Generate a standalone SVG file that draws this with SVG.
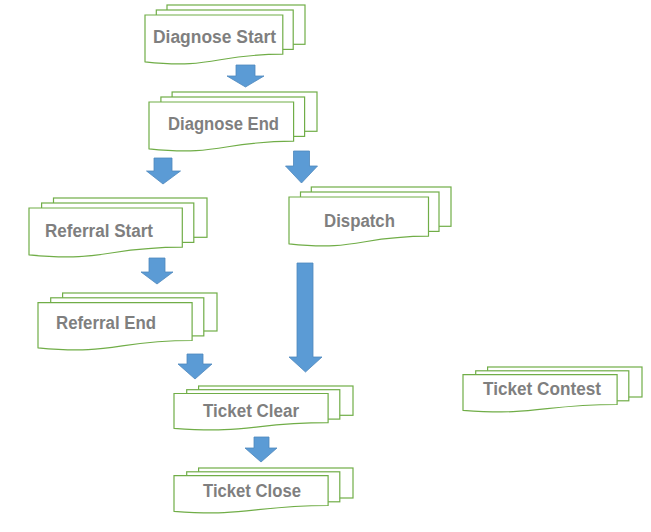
<svg xmlns="http://www.w3.org/2000/svg" width="651" height="532" viewBox="0 0 651 532">
<style>
.pg{fill:#ffffff;stroke:#70ad47;stroke-width:1.2}
.lbl{font-family:"Liberation Sans",Arial,sans-serif;font-weight:bold;font-size:18px;fill:#7f7f7f}
.arr{fill:#5b9bd5;stroke:#4f88bd;stroke-width:0.8}
</style>
<rect width="651" height="532" fill="#ffffff"/>
<g id="connectors">
<polygon class="arr" points="236,65 255,65 255,76 264,76 245.5,87 227,76 236,76"/>
<polygon class="arr" points="154,158 172,158 172,171 180.5,171 163,184 146.5,171 154,171"/>
<polygon class="arr" points="293.5,151 309.5,151 309.5,166 317.5,166 301.5,183 285.5,166 293.5,166"/>
<polygon class="arr" points="149,258 165,258 165,272 173,272 157,284 141,272 149,272"/>
<polygon class="arr" points="297,263 313,263 313,357 322,357 305.5,372 289,357 297,357"/>
<polygon class="arr" points="187,354 203,354 203,364 212,364 195,379 178,364 187,364"/>
<polygon class="arr" points="254,437 269,437 269,448 277,448 261,462 245,448 254,448"/>
</g>
<g id="diagnose-start">
<rect class="pg" x="167" y="5" width="138" height="39.3"/>
<rect class="pg" x="156.3" y="10" width="136.9" height="39.4"/>
<path class="pg" d="M145,61.8 C213.9,69.3 213.9,54.2 282.8,54.2 L282.8,15 L145,15 Z"/>
<text class="lbl" x="153" y="43" textLength="123" lengthAdjust="spacingAndGlyphs">Diagnose Start</text>
</g>
<g id="diagnose-end">
<rect class="pg" x="172.1" y="92" width="144.9" height="39.3"/>
<rect class="pg" x="160.9" y="97" width="143.7" height="39.4"/>
<path class="pg" d="M149,148.8 C221.3,156.3 221.3,141.2 293.6,141.2 L293.6,102 L149,102 Z"/>
<text class="lbl" x="168" y="130" textLength="111" lengthAdjust="spacingAndGlyphs">Diagnose End</text>
</g>
<g id="referral-start">
<rect class="pg" x="53.5" y="198" width="153.5" height="39.3"/>
<rect class="pg" x="41.6" y="203" width="152.2" height="39.4"/>
<path class="pg" d="M29,254.8 C105.6,262.3 105.6,247.2 182.3,247.2 L182.3,208 L29,208 Z"/>
<text class="lbl" x="45" y="237" textLength="108" lengthAdjust="spacingAndGlyphs">Referral Start</text>
</g>
<g id="dispatch">
<rect class="pg" x="311.3" y="187" width="139.7" height="39.3"/>
<rect class="pg" x="300.5" y="192" width="138.5" height="39.4"/>
<path class="pg" d="M289,243.8 C358.7,251.3 358.7,236.2 428.5,236.2 L428.5,197 L289,197 Z"/>
<text class="lbl" x="324" y="227" textLength="71" lengthAdjust="spacingAndGlyphs">Dispatch</text>
</g>
<g id="referral-end">
<rect class="pg" x="62.6" y="293" width="154.4" height="38"/>
<rect class="pg" x="50.7" y="297.8" width="153.1" height="38.1"/>
<path class="pg" d="M38,347.8 C115.1,355.1 115.1,340.5 192.1,340.5 L192.1,302.7 L38,302.7 Z"/>
<text class="lbl" x="56" y="329" textLength="100" lengthAdjust="spacingAndGlyphs">Referral End</text>
</g>
<g id="ticket-clear">
<rect class="pg" x="198.6" y="386" width="154.4" height="29.3"/>
<rect class="pg" x="186.7" y="389.7" width="153.1" height="29.4"/>
<path class="pg" d="M174,428.3 C251.1,434 251.1,422.7 328.1,422.7 L328.1,393.5 L174,393.5 Z"/>
<text class="lbl" x="203" y="417" textLength="96" lengthAdjust="spacingAndGlyphs">Ticket Clear</text>
</g>
<g id="ticket-close">
<rect class="pg" x="198.6" y="468" width="154.4" height="30"/>
<rect class="pg" x="186.7" y="471.8" width="153.1" height="30"/>
<path class="pg" d="M174,511.3 C251.1,517 251.1,505.5 328.1,505.5 L328.1,475.7 L174,475.7 Z"/>
<text class="lbl" x="203" y="497" textLength="98" lengthAdjust="spacingAndGlyphs">Ticket Close</text>
</g>
<g id="ticket-contest">
<rect class="pg" x="487.6" y="367" width="154.4" height="30"/>
<rect class="pg" x="475.7" y="370.8" width="153.1" height="30"/>
<path class="pg" d="M463,410.3 C540.1,416 540.1,404.5 617.1,404.5 L617.1,374.7 L463,374.7 Z"/>
<text class="lbl" x="483" y="395" textLength="118" lengthAdjust="spacingAndGlyphs">Ticket Contest</text>
</g>
</svg>
